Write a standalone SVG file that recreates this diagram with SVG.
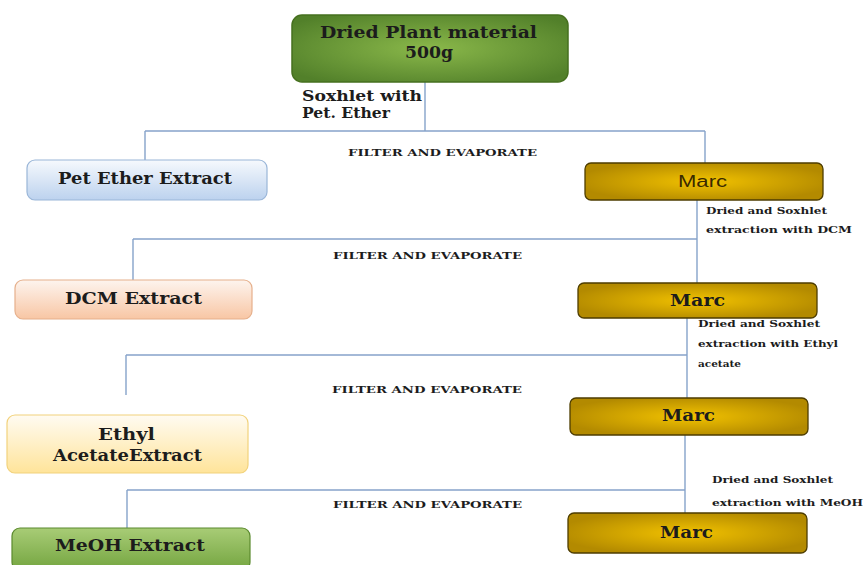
<svg xmlns="http://www.w3.org/2000/svg" width="865" height="565" viewBox="0 0 865 565">
<style>
.t{font-family:"DejaVu Serif","Liberation Serif",serif;font-weight:bold;fill:#1c1c1c;font-size:16.5px}
.lbl{font-family:"DejaVu Serif","Liberation Serif",serif;font-weight:bold;fill:#1c1c1c;font-size:10px}
.fe{font-family:"DejaVu Serif","Liberation Serif",serif;font-weight:bold;fill:#1c1c1c;font-size:8.5px}
.sox{font-family:"DejaVu Serif","Liberation Serif",serif;font-weight:bold;fill:#1c1c1c;font-size:14px}
.ln{stroke:#86a3ca;stroke-width:1.4;fill:none}
.gold{fill:url(#gGold);stroke:#4e3d00;stroke-width:1.3}
</style>
<defs>
<radialGradient id="gGreen" cx="50%" cy="50%" r="62%">
<stop offset="0" stop-color="#8ab84a"/><stop offset="1" stop-color="#52802a"/>
</radialGradient>
<linearGradient id="gBlue" x1="0" y1="0" x2="0" y2="1">
<stop offset="0" stop-color="#f6f9fd"/><stop offset="1" stop-color="#bcd2ee"/>
</linearGradient>
<linearGradient id="gPeach" x1="0" y1="0" x2="0" y2="1">
<stop offset="0" stop-color="#fdf4ee"/><stop offset="1" stop-color="#f8c6a4"/>
</linearGradient>
<linearGradient id="gYel" x1="0" y1="0" x2="0" y2="1">
<stop offset="0" stop-color="#fffbf2"/><stop offset="1" stop-color="#ffe49a"/>
</linearGradient>
<linearGradient id="gMe" x1="0" y1="0" x2="0" y2="1">
<stop offset="0" stop-color="#a8cc76"/><stop offset="1" stop-color="#74a540"/>
</linearGradient>
<radialGradient id="gGold" cx="50%" cy="50%" r="55%">
<stop offset="0" stop-color="#f2c200"/><stop offset="1" stop-color="#b38a00"/>
</radialGradient>
</defs>
<g id="connectors">
<path class="ln" d="M425 82 V131 M145 131 H705 M145 131 V160 M705 131 V163"/>
<path class="ln" d="M697 200 V283 M133 239 H697 M133 239 V280"/>
<path class="ln" d="M687 318 V398 M126 355 H687 M126 355 V395"/>
<path class="ln" d="M685 435 V513 M127 490 H685 M127 490 V528"/>
</g>
<g id="n-dried">
<rect x="292" y="15" width="276" height="67" rx="10" fill="url(#gGreen)" stroke="#46701f" stroke-width="1.5"/>
<text class="t" x="320" y="38" textLength="217" lengthAdjust="spacingAndGlyphs">Dried Plant material</text>
<text class="t" x="405" y="58" textLength="48" lengthAdjust="spacingAndGlyphs">500g</text>
</g>
<g id="lbl-sox">
<text class="sox" x="302" y="101" textLength="120" lengthAdjust="spacingAndGlyphs">Soxhlet with</text>
<text class="sox" x="302" y="118" textLength="88" lengthAdjust="spacingAndGlyphs">Pet. Ether</text>
</g>
<g id="n-pet">
<rect x="27" y="160" width="240" height="40" rx="8" fill="url(#gBlue)" stroke="#9ab6d8" stroke-width="1.2"/>
<text class="t" x="58" y="184" textLength="174" lengthAdjust="spacingAndGlyphs">Pet Ether Extract</text>
</g>
<text class="fe" x="348" y="156" textLength="189" lengthAdjust="spacingAndGlyphs">FILTER AND EVAPORATE</text>
<g id="n-marc1">
<rect x="585" y="163" width="238" height="37" rx="6" class="gold"/>
<text x="678" y="187" textLength="49" lengthAdjust="spacingAndGlyphs" style="font-family:'Liberation Sans','DejaVu Sans',sans-serif;font-size:16px;fill:#3a2a00">Marc</text>
</g>
<text class="lbl" x="706" y="214" textLength="121" lengthAdjust="spacingAndGlyphs">Dried and Soxhlet</text>
<text class="lbl" x="706" y="233" textLength="146" lengthAdjust="spacingAndGlyphs">extraction with DCM</text>
<g id="n-dcm">
<rect x="15" y="280" width="237" height="39" rx="8" fill="url(#gPeach)" stroke="#e6b08c" stroke-width="1.2"/>
<text class="t" x="65" y="304" textLength="137" lengthAdjust="spacingAndGlyphs">DCM Extract</text>
</g>
<text class="fe" x="333" y="259" textLength="189" lengthAdjust="spacingAndGlyphs">FILTER AND EVAPORATE</text>
<g id="n-marc2">
<rect x="578" y="283" width="239" height="35" rx="6" class="gold"/>
<text class="t" x="670" y="306" textLength="55" lengthAdjust="spacingAndGlyphs">Marc</text>
</g>
<text class="lbl" x="698" y="327" textLength="122" lengthAdjust="spacingAndGlyphs">Dried and Soxhlet</text>
<text class="lbl" x="698" y="347" textLength="140" lengthAdjust="spacingAndGlyphs">extraction with Ethyl</text>
<text class="lbl" x="698" y="367" textLength="43" lengthAdjust="spacingAndGlyphs">acetate</text>
<text class="fe" x="332" y="393" textLength="190" lengthAdjust="spacingAndGlyphs">FILTER AND EVAPORATE</text>
<g id="n-marc3">
<rect x="570" y="398" width="238" height="37" rx="6" class="gold"/>
<text class="t" x="662" y="421" textLength="53" lengthAdjust="spacingAndGlyphs">Marc</text>
</g>
<g id="n-ethyl">
<rect x="7" y="415" width="241" height="58" rx="8" fill="url(#gYel)" stroke="#f2d27c" stroke-width="1.2"/>
<text class="t" x="98" y="440" textLength="57" lengthAdjust="spacingAndGlyphs">Ethyl</text>
<text class="t" x="53" y="461" textLength="149" lengthAdjust="spacingAndGlyphs">AcetateExtract</text>
</g>
<text class="lbl" x="712" y="483" textLength="121" lengthAdjust="spacingAndGlyphs">Dried and Soxhlet</text>
<text class="lbl" x="712" y="506" textLength="151" lengthAdjust="spacingAndGlyphs">extraction with MeOH</text>
<text class="fe" x="333" y="508" textLength="189" lengthAdjust="spacingAndGlyphs">FILTER AND EVAPORATE</text>
<g id="n-marc4">
<rect x="568" y="513" width="239" height="40" rx="6" class="gold"/>
<text class="t" x="660" y="538" textLength="53" lengthAdjust="spacingAndGlyphs">Marc</text>
</g>
<g id="n-meoh">
<rect x="12" y="528" width="238" height="42" rx="8" fill="url(#gMe)" stroke="#5b8a2e" stroke-width="1.2"/>
<text class="t" x="55" y="551" textLength="150" lengthAdjust="spacingAndGlyphs">MeOH Extract</text>
</g>
</svg>
